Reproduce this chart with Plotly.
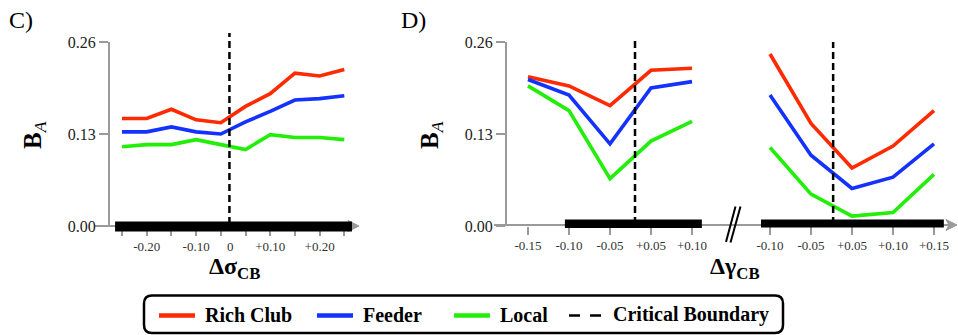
import plotly.graph_objects as go

# ---- data -------------------------------------------------------------
series_names = ["Rich Club", "Feeder", "Local"]
series_colors = ["#ff2a00", "#1432ff", "#22ee08"]

# Panel C: offset from critical sigma
c_labels = ["-0.25", "-0.20", "-0.15", "-0.10", "-0.05",
            "+0.05", "+0.10", "+0.15", "+0.20", "+0.25"]
c_shown = ["-0.20", "-0.10", "+0.10", "+0.20"]
c_rich = [0.152, 0.152, 0.165, 0.150, 0.146, 0.169, 0.187, 0.216, 0.212, 0.221]
c_feeder = [0.133, 0.133, 0.140, 0.133, 0.130, 0.147, 0.162, 0.178, 0.180, 0.184]
c_local = [0.112, 0.115, 0.115, 0.122, 0.115, 0.108, 0.129, 0.125, 0.125, 0.122]
c_boundary = 4.35          # between -0.05 and +0.05
c_sig_span = (-0.28, 9.31)

# Panel D, left block: offset from critical gamma (lower branch)
dl_labels = ["-0.15", "-0.10", "-0.05", "+0.05", "+0.10"]
dl_rich = [0.211, 0.198, 0.170, 0.220, 0.223]
dl_feeder = [0.207, 0.185, 0.116, 0.195, 0.204]
dl_local = [0.198, 0.163, 0.067, 0.120, 0.148]
dl_boundary = 2.61
dl_sig_span = (0.9, 4.24)

# Panel D, right block: offset from critical gamma (upper branch)
dr_labels = ["-0.10", "-0.05", "+0.05", "+0.10", "+0.15"]
dr_rich = [0.243, 0.145, 0.082, 0.113, 0.163]
dr_feeder = [0.185, 0.100, 0.053, 0.069, 0.116]
dr_local = [0.111, 0.045, 0.014, 0.019, 0.073]
dr_boundary = 1.54
dr_sig_span = (-0.22, 4.24)

y_ticks = [0.0, 0.13, 0.26]
y_ticktext = ["0.00", "0.13", "0.26"]

# ---- geometry helpers (pixel -> paper) ---------------------------------
W, H = 958, 335
FONT = "Liberation Serif"
AXIS_GREY = "#9a9a9a"


def fx(p):
    return p / W


def fy(p):
    return 1 - p / H


fig = go.Figure()

panels = [
    ("x", "y", c_labels, [c_rich, c_feeder, c_local]),
    ("x2", "y2", dl_labels, [dl_rich, dl_feeder, dl_local]),
    ("x3", "y2", dr_labels, [dr_rich, dr_feeder, dr_local]),
]
for xa, ya, labels, values in panels:
    for name, color, ys in zip(series_names, series_colors, values):
        fig.add_trace(go.Scatter(
            x=list(range(len(labels))), y=ys, mode="lines", name=name,
            line=dict(color=color, width=3.6), xaxis=xa, yaxis=ya,
            showlegend=False, hoverinfo="skip"))

y_domain = [fy(226), fy(42)]
tick_font = dict(family=FONT, size=13, color="#333")


def x_axis(domain, rng, labels, shown, anchor, ticklen, extra=None):
    vals = [i for i, t in enumerate(labels) if t in shown]
    text = [t for t in labels if t in shown]
    if extra:
        vals.append(extra[0])
        text.append(extra[1])
    return dict(domain=domain, range=rng, anchor=anchor, automargin=False,
                tickmode="array", tickvals=vals, ticktext=text,
                ticks="", ticklabelstandoff=ticklen + 2,
                minor=dict(tickmode="array", tickvals=list(range(len(labels))),
                           ticks="outside", ticklen=ticklen, tickwidth=2,
                           tickcolor=AXIS_GREY, showgrid=False),
                showline=False, showgrid=False, zeroline=False,
                tickfont=tick_font, fixedrange=True)


def y_axis(domain, anchor):
    return dict(domain=domain, range=[0, 0.26], anchor=anchor, automargin=False,
                tickvals=y_ticks, ticktext=y_ticktext,
                ticks="outside", ticklen=9, tickwidth=2, tickcolor=AXIS_GREY,
                showline=True, linecolor=AXIS_GREY, linewidth=2,
                showgrid=False, zeroline=False,
                tickfont=dict(family=FONT, size=16, color="#222"), fixedrange=True)


c_step, c_x0 = 24.7, 122
d_step, dl_x0, dr_x0 = 41.0, 528, 770

fig.update_layout(
    width=W, height=H,
    margin=dict(l=0, r=0, t=0, b=0, pad=0, autoexpand=False),
    paper_bgcolor="white", plot_bgcolor="rgba(0,0,0,0)",
    showlegend=False,
    xaxis=x_axis([fx(110), fx(352)],
                 [(110 - c_x0) / c_step, (352 - c_x0) / c_step],
                 c_labels, c_shown, "y", 9, extra=(c_boundary + 0.03, "0")),
    yaxis=y_axis(y_domain, "x"),
    xaxis2=x_axis([fx(507), fx(726)],
                  [(507 - dl_x0) / d_step, (726 - dl_x0) / d_step],
                  dl_labels, dl_labels, "y2", 8),
    yaxis2=y_axis(y_domain, "x2"),
    xaxis3=x_axis([fx(745), fx(957)],
                  [(745 - dr_x0) / d_step, (957 - dr_x0) / d_step],
                  dr_labels, dr_labels, "y2", 8),
)

shapes = []
annotations = []

# horizontal axis lines ending in an arrow head
for tip, tail, yy in [(359, 95, 226), (957, 494, 225)]:
    shapes.append(dict(type="line", xref="paper", yref="paper",
                       x0=fx(tail), x1=fx(tip - 6), y0=fy(yy), y1=fy(yy),
                       line=dict(color=AXIS_GREY, width=2), layer="below"))
    head = (f"M {fx(tip)},{fy(yy)} L {fx(tip - 11)},{fy(yy - 5.5)} "
            f"L {fx(tip - 8)},{fy(yy)} L {fx(tip - 11)},{fy(yy + 5.5)} Z")
    shapes.append(dict(type="path", xref="paper", yref="paper", path=head,
                       fillcolor=AXIS_GREY, line=dict(color=AXIS_GREY, width=1),
                       layer="below"))

# axis-break marks
for (x1, y1, x2, y2) in [(726, 242, 735.5, 206.5), (730.5, 242.5, 740.5, 206.5)]:
    shapes.append(dict(type="line", xref="paper", yref="paper",
                       x0=fx(x1), y0=fy(y1), x1=fx(x2), y1=fy(y2),
                       line=dict(color="black", width=2)))

# thick black spans along the x axes
for xr, span, (top, bot) in [("x", c_sig_span, (221.5, 231.5)),
                             ("x2", dl_sig_span, (219.5, 228)),
                             ("x3", dr_sig_span, (219.5, 227.5))]:
    shapes.append(dict(type="rect", xref=xr, yref="paper",
                       x0=span[0], x1=span[1], y0=fy(bot), y1=fy(top),
                       fillcolor="black", line=dict(width=0), layer="above"))

# critical boundaries
for xr, xb, top in [("x", c_boundary, 33), ("x2", dl_boundary, 41), ("x3", dr_boundary, 42)]:
    shapes.append(dict(type="line", xref=xr, yref="paper",
                       x0=xb, x1=xb, y0=fy(224), y1=fy(top),
                       line=dict(color="black", width=2.5, dash="7px,4px"),
                       layer="above"))

# panel letters
for txt, xx in [("C)", 7), ("D)", 399)]:
    annotations.append(dict(x=fx(xx), y=fy(5), xref="paper", yref="paper",
                            text=txt, showarrow=False, xanchor="left", yanchor="top",
                            font=dict(family=FONT, size=24, color="black")))

# y-axis titles
for xx in [34, 431]:
    annotations.append(dict(x=fx(xx), y=fy(135), xref="paper", yref="paper",
                            text="<b>B</b><sub><i>A</i></sub>", textangle=-90,
                            showarrow=False, xanchor="center", yanchor="middle",
                            font=dict(family=FONT, size=25, color="black")))

# x-axis titles
for txt, xx in [("<b>Δσ</b><sub><b>CB</b></sub>", 234),
                ("<b>Δγ</b><sub><b>CB</b></sub>", 735)]:
    annotations.append(dict(x=fx(xx), y=fy(252), xref="paper", yref="paper",
                            text=txt, showarrow=False, xanchor="center", yanchor="top",
                            borderpad=0, font=dict(family=FONT, size=24, color="black")))

# ---- legend box ---------------------------------------------------------
bx0, by0, bx1, by1, r = 144, 295.5, 783, 333, 8
path = (f"M {fx(bx0 + r)},{fy(by0)} L {fx(bx1 - r)},{fy(by0)} "
        f"Q {fx(bx1)},{fy(by0)} {fx(bx1)},{fy(by0 + r)} "
        f"L {fx(bx1)},{fy(by1 - r)} Q {fx(bx1)},{fy(by1)} {fx(bx1 - r)},{fy(by1)} "
        f"L {fx(bx0 + r)},{fy(by1)} Q {fx(bx0)},{fy(by1)} {fx(bx0)},{fy(by1 - r)} "
        f"L {fx(bx0)},{fy(by0 + r)} Q {fx(bx0)},{fy(by0)} {fx(bx0 + r)},{fy(by0)} Z")
shapes.append(dict(type="path", xref="paper", yref="paper", path=path,
                   line=dict(color="black", width=2.5), fillcolor="rgba(0,0,0,0)"))

legend_y = 315.5
legend_font = dict(family=FONT, size=20, color="black")
for name, color, sx in zip(series_names, series_colors, [159, 317, 454]):
    shapes.append(dict(type="line", xref="paper", yref="paper",
                       x0=fx(sx), x1=fx(sx + 36), y0=fy(legend_y), y1=fy(legend_y),
                       line=dict(color=color, width=4.5)))
    annotations.append(dict(x=fx(sx + 44), y=fy(legend_y - 1), xref="paper", yref="paper",
                            text=f"<b>{name}</b>", showarrow=False,
                            xanchor="left", yanchor="middle", font=legend_font))
shapes.append(dict(type="line", xref="paper", yref="paper",
                   x0=fx(569), x1=fx(601), y0=fy(legend_y), y1=fy(legend_y),
                   line=dict(color="black", width=2.5, dash="11px,10px")))
annotations.append(dict(x=fx(611), y=fy(legend_y - 1), xref="paper", yref="paper",
                        text="<b>Critical Boundary</b>", showarrow=False,
                        xanchor="left", yanchor="middle", font=legend_font))

fig.update_layout(shapes=shapes, annotations=annotations)
fig.write_html("out.html")
